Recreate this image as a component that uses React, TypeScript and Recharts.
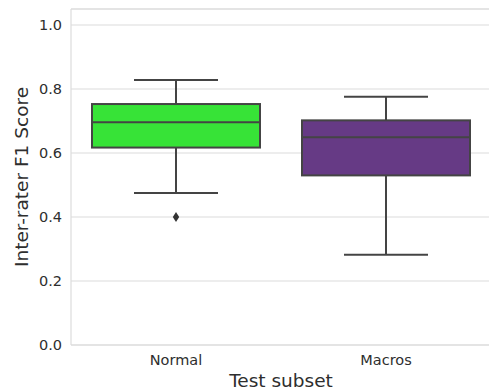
import { ComposedChart, Bar, Scatter, XAxis, YAxis, CartesianGrid, ReferenceLine } from 'recharts';

const categories = ['Normal', 'Macros'];
const whiskerLow = [0.475, 0.282];
const q1 = [0.617, 0.53];
const median = [0.696, 0.649];
const q3 = [0.753, 0.702];
const whiskerHigh = [0.828, 0.776];
const outliers = [0.4, null];
const boxColors = ['#37e337', '#663a85'];
const yTicks = [0, 0.2, 0.4, 0.6, 0.8, 1.0];

const data = categories.map((name, i) => ({
  name,
  lo: whiskerLow[i],
  q1: q1[i],
  med: median[i],
  q3: q3[i],
  hi: whiskerHigh[i],
  outlier: outliers[i],
  color: boxColors[i],
}));

const LINE = '#444444';
const GRID = '#dcdcdc';
const TEXT = '#2e2e2e';
const FONT = '"DejaVu Sans", sans-serif';

// draws the whole box + whiskers inside the range bar (lo..hi) geometry
function BoxShape(props: any) {
  const { x, y, width, height, payload } = props;
  if (height == null || !payload) return null;
  const top = y;
  const bottom = y + height;
  const span = payload.hi - payload.lo;
  const py = (v: number) => top + ((payload.hi - v) / span) * (bottom - top);
  const cx = x + width / 2;
  const capHalf = width / 4;
  const yq1 = py(payload.q1);
  const yq3 = py(payload.q3);
  const ymed = py(payload.med);
  return (
    <g>
      <line x1={cx} x2={cx} y1={top} y2={yq3} stroke={LINE} strokeWidth={2} />
      <line x1={cx} x2={cx} y1={yq1} y2={bottom} stroke={LINE} strokeWidth={2} />
      <line x1={cx - capHalf} x2={cx + capHalf} y1={top} y2={top} stroke={LINE} strokeWidth={2} />
      <line x1={cx - capHalf} x2={cx + capHalf} y1={bottom} y2={bottom} stroke={LINE} strokeWidth={2} />
      <rect x={x} y={yq3} width={width} height={yq1 - yq3} fill={payload.color} stroke={LINE} strokeWidth={2} />
      <line x1={x} x2={x + width} y1={ymed} y2={ymed} stroke={LINE} strokeWidth={2} />
    </g>
  );
}

function Diamond(props: any) {
  const { cx, cy } = props;
  if (cx == null || cy == null) return null;
  return <path d={`M${cx},${cy - 5} L${cx + 3.2},${cy} L${cx},${cy + 5} L${cx - 3.2},${cy} Z`} fill="#333333" />;
}

export default function App() {
  return (
    <div style={{ position: 'absolute', left: 0, top: 0, width: 489, height: 389, overflow: 'hidden', background: '#fff' }}>
      <ComposedChart
        width={491}
        height={389}
        data={data}
        margin={{ top: 9, right: 0, bottom: 0, left: 0 }}
        barCategoryGap="10%"
      >
        <CartesianGrid horizontal vertical={false} stroke={GRID} strokeWidth={1.2} />
        <ReferenceLine y={1.05} stroke={GRID} strokeWidth={1.2} />
        <XAxis
          dataKey="name"
          height={44}
          tickLine={false}
          axisLine={{ stroke: GRID, strokeWidth: 1.2 }}
          tickMargin={4}
          tick={{ fontSize: 14.5, fill: TEXT, fontFamily: FONT }}
          label={{ value: 'Test subset', position: 'insideBottom', offset: 2.5, fontSize: 18.5, fill: TEXT, fontFamily: FONT }}
        />
        <YAxis
          type="number"
          domain={[0, 1.05]}
          ticks={yTicks}
          width={71}
          tickLine={false}
          axisLine={{ stroke: GRID, strokeWidth: 1.2 }}
          tickMargin={3}
          tickFormatter={(v: number) => v.toFixed(1)}
          tick={{ fontSize: 14.5, fill: TEXT, fontFamily: FONT }}
          label={{ value: 'Inter-rater F1 Score', angle: -90, position: 'center', dx: -14.5, fontSize: 18.5, fill: TEXT, fontFamily: FONT }}
        />
        <Bar dataKey={(d: any) => [d.lo, d.hi]} shape={BoxShape} isAnimationActive={false} />
        <Scatter dataKey="outlier" shape={Diamond} isAnimationActive={false} />
      </ComposedChart>
    </div>
  );
}
